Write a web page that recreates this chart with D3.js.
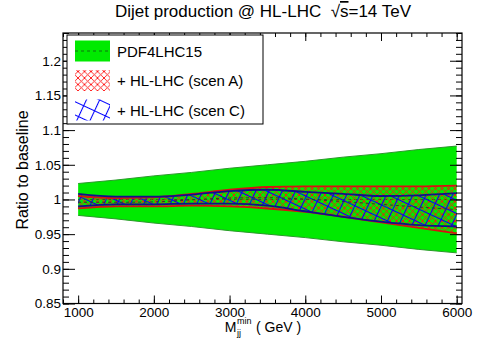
<!DOCTYPE html>
<html><head><meta charset="utf-8">
<script src="https://cdn.jsdelivr.net/npm/d3@7"></script>
<style>body{margin:0;background:#fff}svg{display:block;font-family:"Liberation Sans",Arial,Helvetica,sans-serif}</style>
</head><body><svg id="c" width="478" height="340"></svg>
<script>
// ---- data ----
const mjj     = [1000, 1500, 2000, 2500, 3000, 3500, 4000, 4500, 5000, 5500, 6000];
const pdfUp   = [1.023, 1.028, 1.034, 1.039, 1.045, 1.050, 1.055, 1.061, 1.066, 1.072, 1.077];
const pdfDn   = [0.977, 0.972, 0.966, 0.961, 0.955, 0.950, 0.945, 0.939, 0.934, 0.928, 0.923];
const scenAUp = [1.005, 1.002, 1.003, 1.008, 1.014, 1.018, 1.019, 1.019, 1.019, 1.019, 1.020];
const scenADn = [0.987, 0.990, 0.990, 0.991, 0.990, 0.987, 0.982, 0.975, 0.967, 0.959, 0.951];
const scenCUp = [1.008, 1.004, 1.004, 1.007, 1.012, 1.014, 1.011, 1.008, 1.005, 1.006, 1.009];
const scenCDn = [0.990, 0.993, 0.993, 0.994, 0.994, 0.991, 0.983, 0.975, 0.968, 0.963, 0.961];
const xTicks  = [1000, 2000, 3000, 4000, 5000, 6000];
const yTicks  = [0.85, 0.9, 0.95, 1, 1.05, 1.1, 1.15, 1.2];
const legendLabels = ["PDF4LHC15", "+ HL-LHC (scen A)", "+ HL-LHC (scen C)"];
const titleText = "Dijet production @ HL-LHC";

// ---- layout ----
const L = 63, R = 462, T = 33, B = 303.5;
const svg = d3.select("#c");
const x = d3.scaleLinear().domain([800, 6070]).range([L, R]);
const y = d3.scaleLinear().domain([0.85, 1.24]).range([B, T]);

const defs = svg.append("defs");
defs.append("clipPath").attr("id","clip").append("rect")
  .attr("x",L).attr("y",T).attr("width",R-L).attr("height",B-T);
const pA = defs.append("pattern").attr("id","hatchA").attr("patternUnits","userSpaceOnUse")
  .attr("width",6.5).attr("height",6.5);
pA.append("path").attr("d","M0,0L6.5,6.5M6.5,0L0,6.5")
  .attr("stroke","#ff1010").attr("stroke-width",0.9).attr("fill","none");
const pC = defs.append("pattern").attr("id","hatchC").attr("patternUnits","userSpaceOnUse")
  .attr("width",12).attr("height",12).attr("patternTransform","rotate(25)");
pC.append("path").attr("d","M0,0.5H12M0.5,0V12")
  .attr("stroke","#0000ff").attr("stroke-width",1.1).attr("fill","none");

const rows = mjj.map((m,i)=>({m, pu:pdfUp[i], pd:pdfDn[i], au:scenAUp[i], ad:scenADn[i], cu:scenCUp[i], cd:scenCDn[i]}));

const plot = svg.append("g").attr("clip-path","url(#clip)");
const curve = d3.curveMonotoneX;
const area = (u,d,c) => d3.area().x(r=>x(r.m)).y0(r=>y(r[d])).y1(r=>y(r[u])).curve(c);
const line = (f,c) => d3.line().x(r=>x(r.m)).y(f).curve(c);

// PDF band
plot.append("path").datum(rows).attr("d",area("pu","pd",d3.curveLinear)).attr("fill","#00ea00");
["pu","pd"].forEach(k=>plot.append("path").datum(rows).attr("d",line(r=>y(r[k]),d3.curveLinear))
  .attr("fill","none").attr("stroke","#2a9a2a").attr("stroke-width",1));
plot.append("path").datum(rows).attr("d",line(r=>y((r.pu+r.pd)/2),d3.curveLinear))
  .attr("fill","none").attr("stroke","#107010").attr("stroke-width",1).attr("stroke-dasharray","3,3");

// scen A
plot.append("path").datum(rows).attr("d",area("au","ad",curve)).attr("fill","url(#hatchA)");
// scen C
plot.append("path").datum(rows).attr("d",area("cu","cd",curve)).attr("fill","url(#hatchC)");
// central dashed line
plot.append("path").datum(rows).attr("d",line(r=>y((r.au+r.ad)/2),curve))
  .attr("fill","none").attr("stroke","#333").attr("stroke-width",1).attr("stroke-dasharray","3,3");
// borders
["au","ad"].forEach(k=>plot.append("path").datum(rows).attr("d",line(r=>y(r[k]),curve))
  .attr("fill","none").attr("stroke","#d81010").attr("stroke-width",1.8));
["cu","cd"].forEach(k=>plot.append("path").datum(rows).attr("d",line(r=>y(r[k]),curve))
  .attr("fill","none").attr("stroke","#10108a").attr("stroke-width",1.8));

// ---- axes ----
const fmtY = d => String(+d.toFixed(2));
const styleAxis = g => { g.select(".domain").remove(); g.selectAll("line").attr("stroke","#000"); g.selectAll("text").attr("font-size","13.5px").attr("fill","#000").attr("font-family",null); };
const xMinor = d3.range(800, 6070, 200);
const yMinor = d3.range(85, 125, 1).map(v=>v/100);

svg.append("g").attr("transform",`translate(0,${B})`)
  .call(d3.axisBottom(x).tickValues(xMinor).tickSize(-4).tickFormat("")).call(styleAxis);
svg.append("g").attr("transform",`translate(0,${B})`)
  .call(d3.axisBottom(x).tickValues(xTicks).tickSize(-8).tickPadding(4).tickFormat(d3.format("d"))).call(styleAxis);
svg.append("g").attr("transform",`translate(0,${T})`)
  .call(d3.axisTop(x).tickValues(xMinor).tickSize(-4).tickFormat("")).call(styleAxis);
svg.append("g").attr("transform",`translate(0,${T})`)
  .call(d3.axisTop(x).tickValues(xTicks).tickSize(-8).tickFormat("")).call(styleAxis);
svg.append("g").attr("transform",`translate(${L},0)`)
  .call(d3.axisLeft(y).tickValues(yMinor).tickSize(-6).tickFormat("")).call(styleAxis);
svg.append("g").attr("transform",`translate(${L},0)`)
  .call(d3.axisLeft(y).tickValues(yTicks).tickSize(-12).tickPadding(2).tickFormat(fmtY)).call(styleAxis);
svg.append("g").attr("transform",`translate(${R},0)`)
  .call(d3.axisRight(y).tickValues(yMinor).tickSize(-6).tickFormat("")).call(styleAxis);
svg.append("g").attr("transform",`translate(${R},0)`)
  .call(d3.axisRight(y).tickValues(yTicks).tickSize(-12).tickFormat("")).call(styleAxis);

svg.append("rect").attr("x",L).attr("y",T).attr("width",R-L).attr("height",B-T)
  .attr("fill","none").attr("stroke","#000").attr("stroke-width",1.2);

// ---- title ----
const tt = svg.append("text").attr("x",263).attr("y",17).attr("text-anchor","middle").attr("font-size","17px");
tt.append("tspan").text(titleText + "\u00a0\u00a0√");
tt.append("tspan").attr("text-decoration","overline").text("s");
tt.append("tspan").text("=14 TeV");

// ---- y title ----
svg.append("text").attr("transform","translate(28,170) rotate(-90)").attr("text-anchor","middle")
  .attr("font-size","16px").text("Ratio to baseline");

// ---- x title ----
const xt = svg.append("g");
const bx = 0, by = 331.5;
const tM = xt.append("text").attr("x",bx).attr("y",by).attr("font-size","14px").text("M");
const wM = tM.node().getComputedTextLength();
const tSub = xt.append("text").attr("x",bx+wM+0.5).attr("y",by+4).attr("font-size","9px").text("jj");
const tSup = xt.append("text").attr("x",bx+wM+0.5).attr("y",by-7.5).attr("font-size","9px").text("min");
const wS = Math.max(tSub.node().getComputedTextLength(), tSup.node().getComputedTextLength());
const tG = xt.append("text").attr("x",bx+wM+wS+5).attr("y",by).attr("font-size","14px").text("( GeV )");
const total = wM + wS + 5 + tG.node().getComputedTextLength();
xt.attr("transform",`translate(${263 - total/2},0)`);

// ---- legend ----
const lg = svg.append("g");
lg.append("rect").attr("x",67).attr("y",35).attr("width",196).attr("height",89)
  .attr("fill","#fff").attr("stroke","#000").attr("stroke-width",1);
const fills = ["#00ea00","url(#hatchA)","url(#hatchC)"];
legendLabels.forEach((lab,i)=>{
  const cy = 51 + i*29.5;
  lg.append("rect").attr("x",75).attr("y",cy-10.5).attr("width",35).attr("height",21).attr("fill",fills[i]);
  if (i===0) lg.append("line").attr("x1",75).attr("x2",110).attr("y1",cy).attr("y2",cy)
    .attr("stroke","#107010").attr("stroke-dasharray","3,3");
  lg.append("text").attr("x",117).attr("y",cy+5.5).attr("font-size","15px").text(lab);
});
</script></body></html>
